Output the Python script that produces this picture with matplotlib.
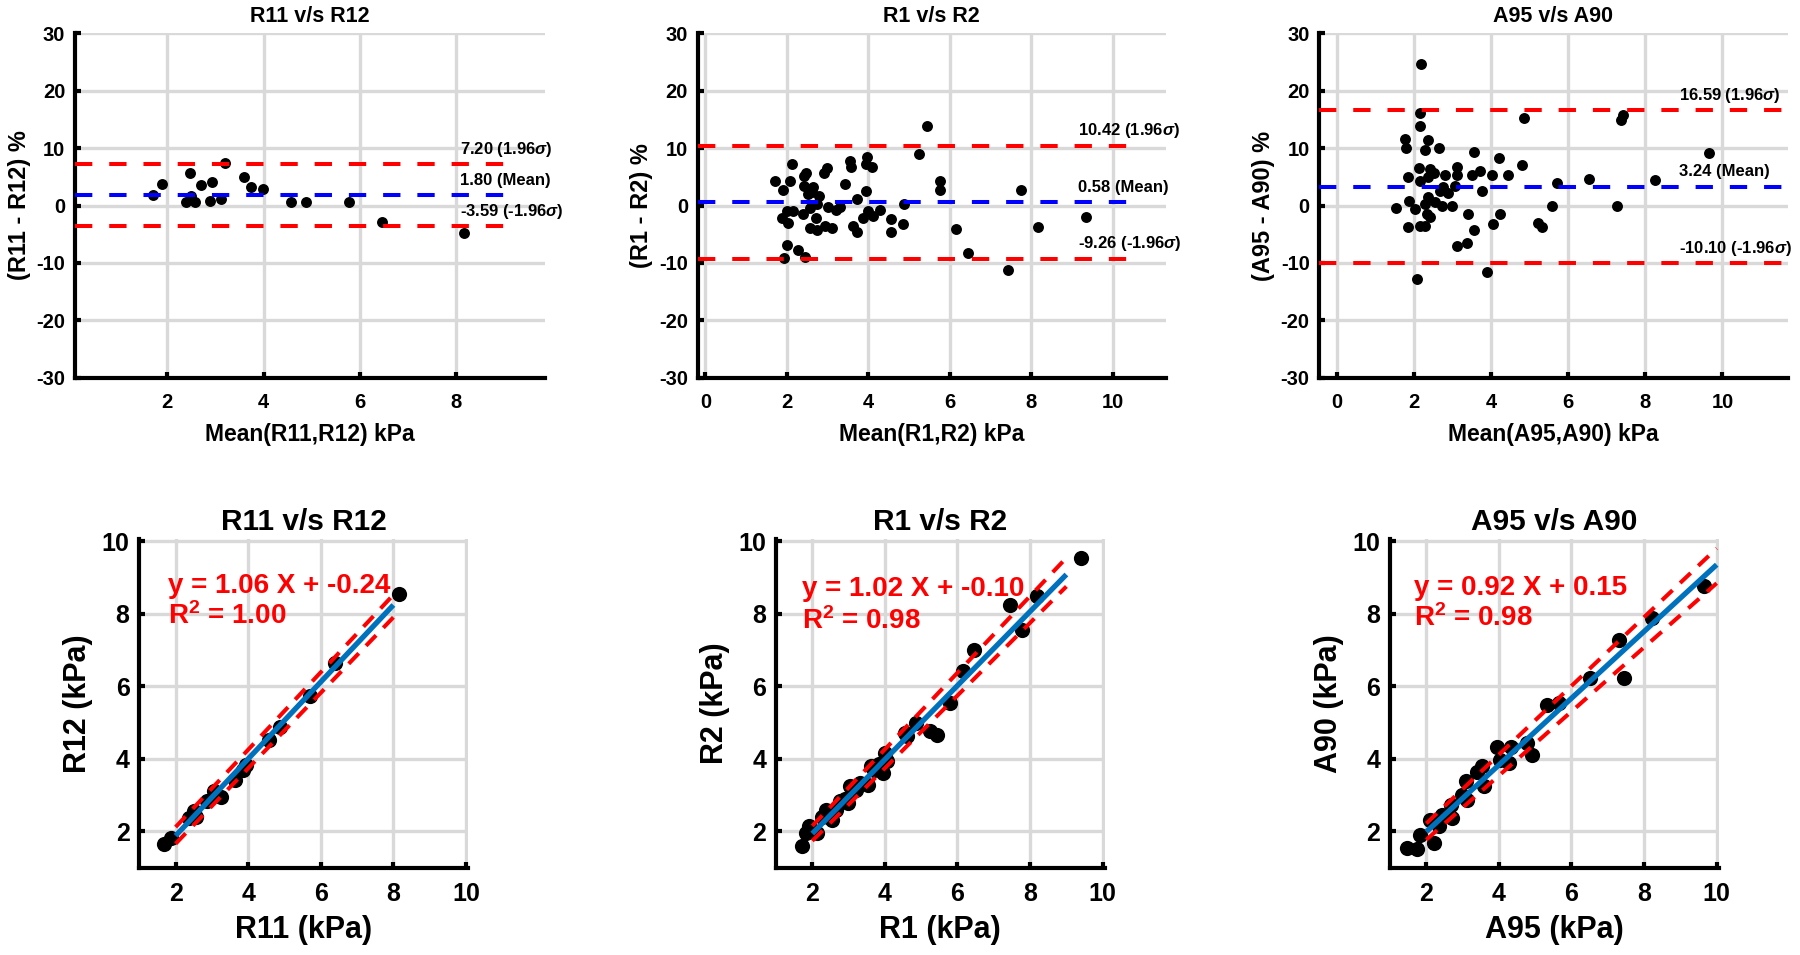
import matplotlib
matplotlib.use('Agg')
import matplotlib.pyplot as plt

plt.rcParams['font.family'] = ['Liberation Sans', 'DejaVu Sans']
plt.rcParams['font.weight'] = 'bold'
plt.rcParams['axes.unicode_minus'] = False
plt.rcParams['mathtext.fontset'] = 'custom'
plt.rcParams['mathtext.rm'] = 'Liberation Sans:bold'
plt.rcParams['mathtext.it'] = 'Liberation Sans:italic:bold'
plt.rcParams['mathtext.bf'] = 'Liberation Sans:bold'

# ---------------- data: Bland-Altman panels ----------------
ba_titles = ["R11 v/s R12", "R1 v/s R2", "A95 v/s A90"]
ba_xlabels = ["Mean(R11,R12) kPa", "Mean(R1,R2) kPa", "Mean(A95,A90) kPa"]
ba_ylabels = ["(R11 - R12) %", "(R1 - R2) %", "(A95 - A90) %"]
ba_bias = [1.80, 0.58, 3.24]
ba_upper = [7.20, 10.42, 16.59]
ba_lower = [-3.59, -9.26, -10.10]

ba1_mean = [1.70, 1.89, 2.47, 2.39, 2.50, 2.57, 2.70, 2.93, 2.89, 3.12, 3.20, 3.59,
            3.74, 3.98, 4.57, 4.89, 5.78, 6.46, 8.16]
ba1_diff = [1.83, 3.68, 5.59, 0.55, 1.65, 0.55, 3.57, 4.14, 0.84, 1.13, 7.33, 5.01,
            3.28, 2.81, 0.67, 0.67, 0.67, -2.93, -4.84]

ba2_mean = [5.43, 5.24, 2.12, 2.47, 2.41, 2.98, 2.91, 3.55, 3.58, 3.96, 4.09, 3.94,
            1.70, 2.07, 1.90, 2.41, 2.65, 2.80, 2.53, 3.43, 3.94, 3.73, 5.76, 5.77,
            7.75, 3.00, 3.31, 3.22, 2.00, 2.16, 1.88, 2.04, 2.39, 2.72, 2.94, 3.10,
            2.56, 2.75, 3.63, 3.73, 3.88, 4.00, 4.11, 4.29, 4.88, 4.57, 4.86, 4.56,
            6.16, 6.45, 7.42, 2.00, 2.27, 2.45, 1.92, 2.61, 2.57, 2.73, 9.34, 8.17]
ba2_diff = [13.80, 8.96, 7.22, 5.64, 5.18, 6.52, 5.59, 7.80, 6.75, 8.38, 6.75, 7.22,
            4.30, 4.30, 2.67, 3.43, 3.26, 1.68, 1.97, 3.72, 2.56, 1.10, 4.30, 2.73,
            2.75, -0.18, -0.18, -0.82, -0.93, -0.93, -2.22, -2.98, -1.52, -2.10, -3.56, -3.85,
            -3.85, -4.32, -3.56, -4.55, -2.10, -0.93, -1.81, -0.82, 0.23, -2.39, -3.27, -4.55,
            -4.02, -8.22, -11.25, -6.88, -7.81, -8.92, -9.09, 2.27, -0.35, 0.23, -2.06, -3.81]

ba3_mean = [2.17, 2.15, 2.15, 1.76, 1.78, 2.36, 2.29, 2.64, 4.85, 3.56, 4.21, 4.79,
            2.13, 2.42, 3.10, 3.10, 1.83, 2.15, 2.36, 2.51, 2.80, 3.49, 3.71, 4.01,
            4.44, 5.70, 6.55, 2.75, 3.06, 2.67, 2.88, 3.75, 1.87, 2.36, 1.54, 2.02,
            2.28, 2.71, 2.97, 5.59, 7.26, 3.39, 4.23, 1.83, 2.15, 2.28, 2.41, 3.55,
            4.05, 5.22, 5.33, 3.10, 3.36, 3.88, 2.08, 7.37, 7.42, 9.65, 8.26, 2.54, 2.32]
ba3_diff = [24.63, 16.12, 13.79, 11.52, 10.00, 11.46, 9.60, 10.06, 15.25, 9.31, 8.32, 7.09,
            6.57, 6.39, 6.68, 5.40, 4.94, 4.24, 4.94, 5.69, 5.23, 5.40, 5.93, 5.40,
            5.23, 3.94, 4.64, 3.30, 3.48, 2.49, 2.20, 2.49, 0.74, 1.44, -0.43, -0.60,
            0.27, -0.14, -0.14, -0.02, -0.14, -1.48, -1.48, -3.69, -3.63, -3.52, -2.06, -4.21,
            -3.22, -3.11, -3.81, -6.99, -6.52, -11.50, -12.84, 14.85, 15.72, 9.22, 4.52, 0.56, -1.48]

ba_xlims = [(0.09, 9.83), (-0.19, 11.30), (-0.46, 11.69)]
ba_xticks = [[2, 4, 6, 8], [0, 2, 4, 6, 8, 10], [0, 2, 4, 6, 8, 10]]
ba_yticks = [-30, -20, -10, 0, 10, 20, 30]
ba_line_end = [9.05, 10.37, 11.65]
ba_label_x = [8.08, 9.14, 8.87]

# ---------------- data: regression panels ----------------
rg_titles = ["R11 v/s R12", "R1 v/s R2", "A95 v/s A90"]
rg_xlabels = ["R11 (kPa)", "R1 (kPa)", "A95 (kPa)"]
rg_ylabels = ["R12 (kPa)", "R2 (kPa)", "A90 (kPa)"]
rg_slope = [1.06, 1.02, 0.92]
rg_intercept = [-0.24, -0.10, 0.15]
rg_r2 = [1.00, 0.98, 0.98]

r11 = [1.69, 1.86, 2.37, 2.52, 2.57, 2.86, 3.06, 3.24, 3.65, 3.94, 3.86, 4.58, 4.87, 5.71, 6.39, 8.16]
r12 = [1.66, 1.82, 2.37, 2.55, 2.41, 2.83, 3.10, 2.96, 3.42, 3.84, 3.70, 4.53, 4.87, 5.72, 6.64, 8.55]

r1 = [1.71, 1.84, 1.92, 2.12, 2.26, 2.39, 2.53, 2.76, 2.99, 3.04, 3.31, 3.54, 3.63, 3.96,
      4.07, 4.00, 4.55, 4.60, 4.87, 5.24, 5.44, 5.79, 6.16, 6.45, 7.45, 7.79, 8.18, 9.39,
      2.05, 2.45, 2.65, 2.90, 3.20, 3.70, 3.85]
r2 = [1.60, 1.95, 2.14, 1.95, 2.41, 2.60, 2.32, 2.83, 2.78, 3.24, 3.33, 3.29, 3.79, 3.61,
      3.93, 4.16, 4.71, 4.62, 4.99, 4.76, 4.65, 5.54, 6.41, 7.01, 8.25, 7.54, 8.48, 9.54,
      2.00, 2.40, 2.60, 2.90, 3.15, 3.70, 3.85]

a95 = [1.48, 1.75, 1.84, 2.21, 2.10, 2.35, 2.44, 2.71, 2.67, 2.99, 3.13, 3.08, 3.40, 3.59,
       3.54, 3.95, 4.04, 4.27, 4.32, 4.78, 4.91, 5.33, 5.65, 6.52, 7.30, 7.44, 8.21, 9.65]
a90 = [1.54, 1.51, 1.91, 1.68, 2.32, 2.14, 2.46, 2.37, 2.74, 3.01, 2.87, 3.38, 3.65, 3.24,
       3.79, 4.34, 3.98, 3.88, 4.34, 4.44, 4.11, 5.47, 5.54, 6.23, 7.28, 6.23, 7.88, 8.76]

rg_fit_x = [[2, 8], [2, 9], [2, 10]]
rg_upper_y = [[2.12, 8.52], [2.15, 9.54], [2.22, 9.80]]
rg_lower_y = [[1.66, 7.90], [1.74, 8.75], [1.77, 8.84]]
rg_text_x = [1.78, 1.71, 1.66]
rg_text_y1 = [8.75, 8.68, 8.71]
rg_text_y2 = [7.92, 7.79, 7.88]
rg_ticks = [2, 4, 6, 8, 10]

ba_x = [ba1_mean, ba2_mean, ba3_mean]
ba_y = [ba1_diff, ba2_diff, ba3_diff]
rg_x = [r11, r1, a95]
rg_y = [r12, r2, a90]

W, H = 1800, 955
fig = plt.figure(figsize=(W / 100, H / 100), dpi=100)

GRID = '#d9d9d9'


def style(ax, tick_size, xpad, ypad):
    for s in ['top', 'right']:
        ax.spines[s].set_visible(False)
    for s in ['left', 'bottom']:
        ax.spines[s].set_linewidth(3)
        ax.spines[s].set_color('black')
    ax.tick_params(direction='in', length=4.5, width=3, labelsize=tick_size)
    ax.tick_params(axis='x', pad=xpad)
    ax.tick_params(axis='y', pad=ypad)
    ax.grid(True, color=GRID, linewidth=2.4)
    ax.set_axisbelow(True)
    for lab in ax.get_xticklabels() + ax.get_yticklabels():
        lab.set_fontweight('bold')


ba_left = [75, 697.6, 1319.4]
ba_width = [469.6, 468.0, 468.1]
for i in range(3):
    ax = fig.add_axes([ba_left[i] / W, 1 - 377.7 / H, ba_width[i] / W, 344.4 / H])
    ax.scatter(ba_x[i], ba_y[i], s=62, color='black', zorder=2, linewidths=0)
    x0, x1 = ba_xlims[i]
    ax.plot([x0, ba_line_end[i]], [ba_upper[i]] * 2, color='#ff0000', lw=2.9,
            dashes=(4.3, 4.2), zorder=3)
    ax.plot([x0, ba_line_end[i]], [ba_lower[i]] * 2, color='#ff0000', lw=2.9,
            dashes=(4.3, 4.2), zorder=3)
    ax.plot([x0, ba_line_end[i]], [ba_bias[i]] * 2, color='#0000ff', lw=2.9,
            dashes=(4.3, 4.2), zorder=3)
    ax.text(ba_label_x[i], ba_upper[i] + 2.6, f"{ba_upper[i]:.2f} (1.96$\\sigma$)",
            fontsize=12, fontweight='bold', va='center', ha='left', clip_on=False)
    ax.text(ba_label_x[i], ba_bias[i] + 2.6, f"{ba_bias[i]:.2f} (Mean)",
            fontsize=12, fontweight='bold', va='center', ha='left', clip_on=False)
    ax.text(ba_label_x[i], ba_lower[i] + 2.6, f"{ba_lower[i]:.2f} (-1.96$\\sigma$)",
            fontsize=12, fontweight='bold', va='center', ha='left', clip_on=False)
    ax.set_xlim(x0, x1)
    ax.set_ylim(-30, 30)
    ax.set_xticks(ba_xticks[i])
    ax.set_yticks(ba_yticks)
    style(ax, 14.5, 11, 7)
    ax.set_title(ba_titles[i], fontsize=15.5, fontweight='bold', pad=8)
    ax.set_xlabel(ba_xlabels[i], fontsize=16.5, fontweight='bold', labelpad=8)
    ax.set_ylabel(ba_ylabels[i], fontsize=17, fontweight='bold', labelpad=4)

rg_left = [139.3, 776, 1390]
for i in range(3):
    ax = fig.add_axes([rg_left[i] / W, 1 - 867.7 / H, 328.5 / W, 328.4 / H])
    ax.scatter(rg_x[i], rg_y[i], s=120, color='black', zorder=2, linewidths=0)
    fx = rg_fit_x[i]
    fy = [rg_slope[i] * v + rg_intercept[i] for v in fx]
    ax.plot(fx, fy, color='#0072BD', lw=3.8, zorder=3, solid_capstyle='butt')
    ax.plot(fx, rg_upper_y[i], color='#ff0000', lw=2.9, dashes=(3.6, 2.6), zorder=4)
    ax.plot(fx, rg_lower_y[i], color='#ff0000', lw=2.9, dashes=(3.6, 2.6), zorder=4)
    ax.text(rg_text_x[i], rg_text_y1[i],
            f"y = {rg_slope[i]:.2f} X + {rg_intercept[i]:.2f}",
            color='#ff0000', fontsize=20, fontweight='bold', va='center', ha='left', zorder=5)
    ax.text(rg_text_x[i], rg_text_y2[i], f"R$^2$ = {rg_r2[i]:.2f}",
            color='#ff0000', fontsize=20, fontweight='bold', va='center', ha='left', zorder=5)
    ax.set_xlim(1, 10.05)
    ax.set_ylim(1, 10.05)
    ax.set_xticks(rg_ticks)
    ax.set_yticks(rg_ticks)
    style(ax, 18, 10, 7)
    ax.set_title(rg_titles[i], fontsize=21.5, fontweight='bold', pad=7)
    ax.set_xlabel(rg_xlabels[i], fontsize=22, fontweight='bold', labelpad=7)
    ax.set_ylabel(rg_ylabels[i], fontsize=22, fontweight='bold', labelpad=6)

fig.savefig('out.png', dpi=100, facecolor='white')
